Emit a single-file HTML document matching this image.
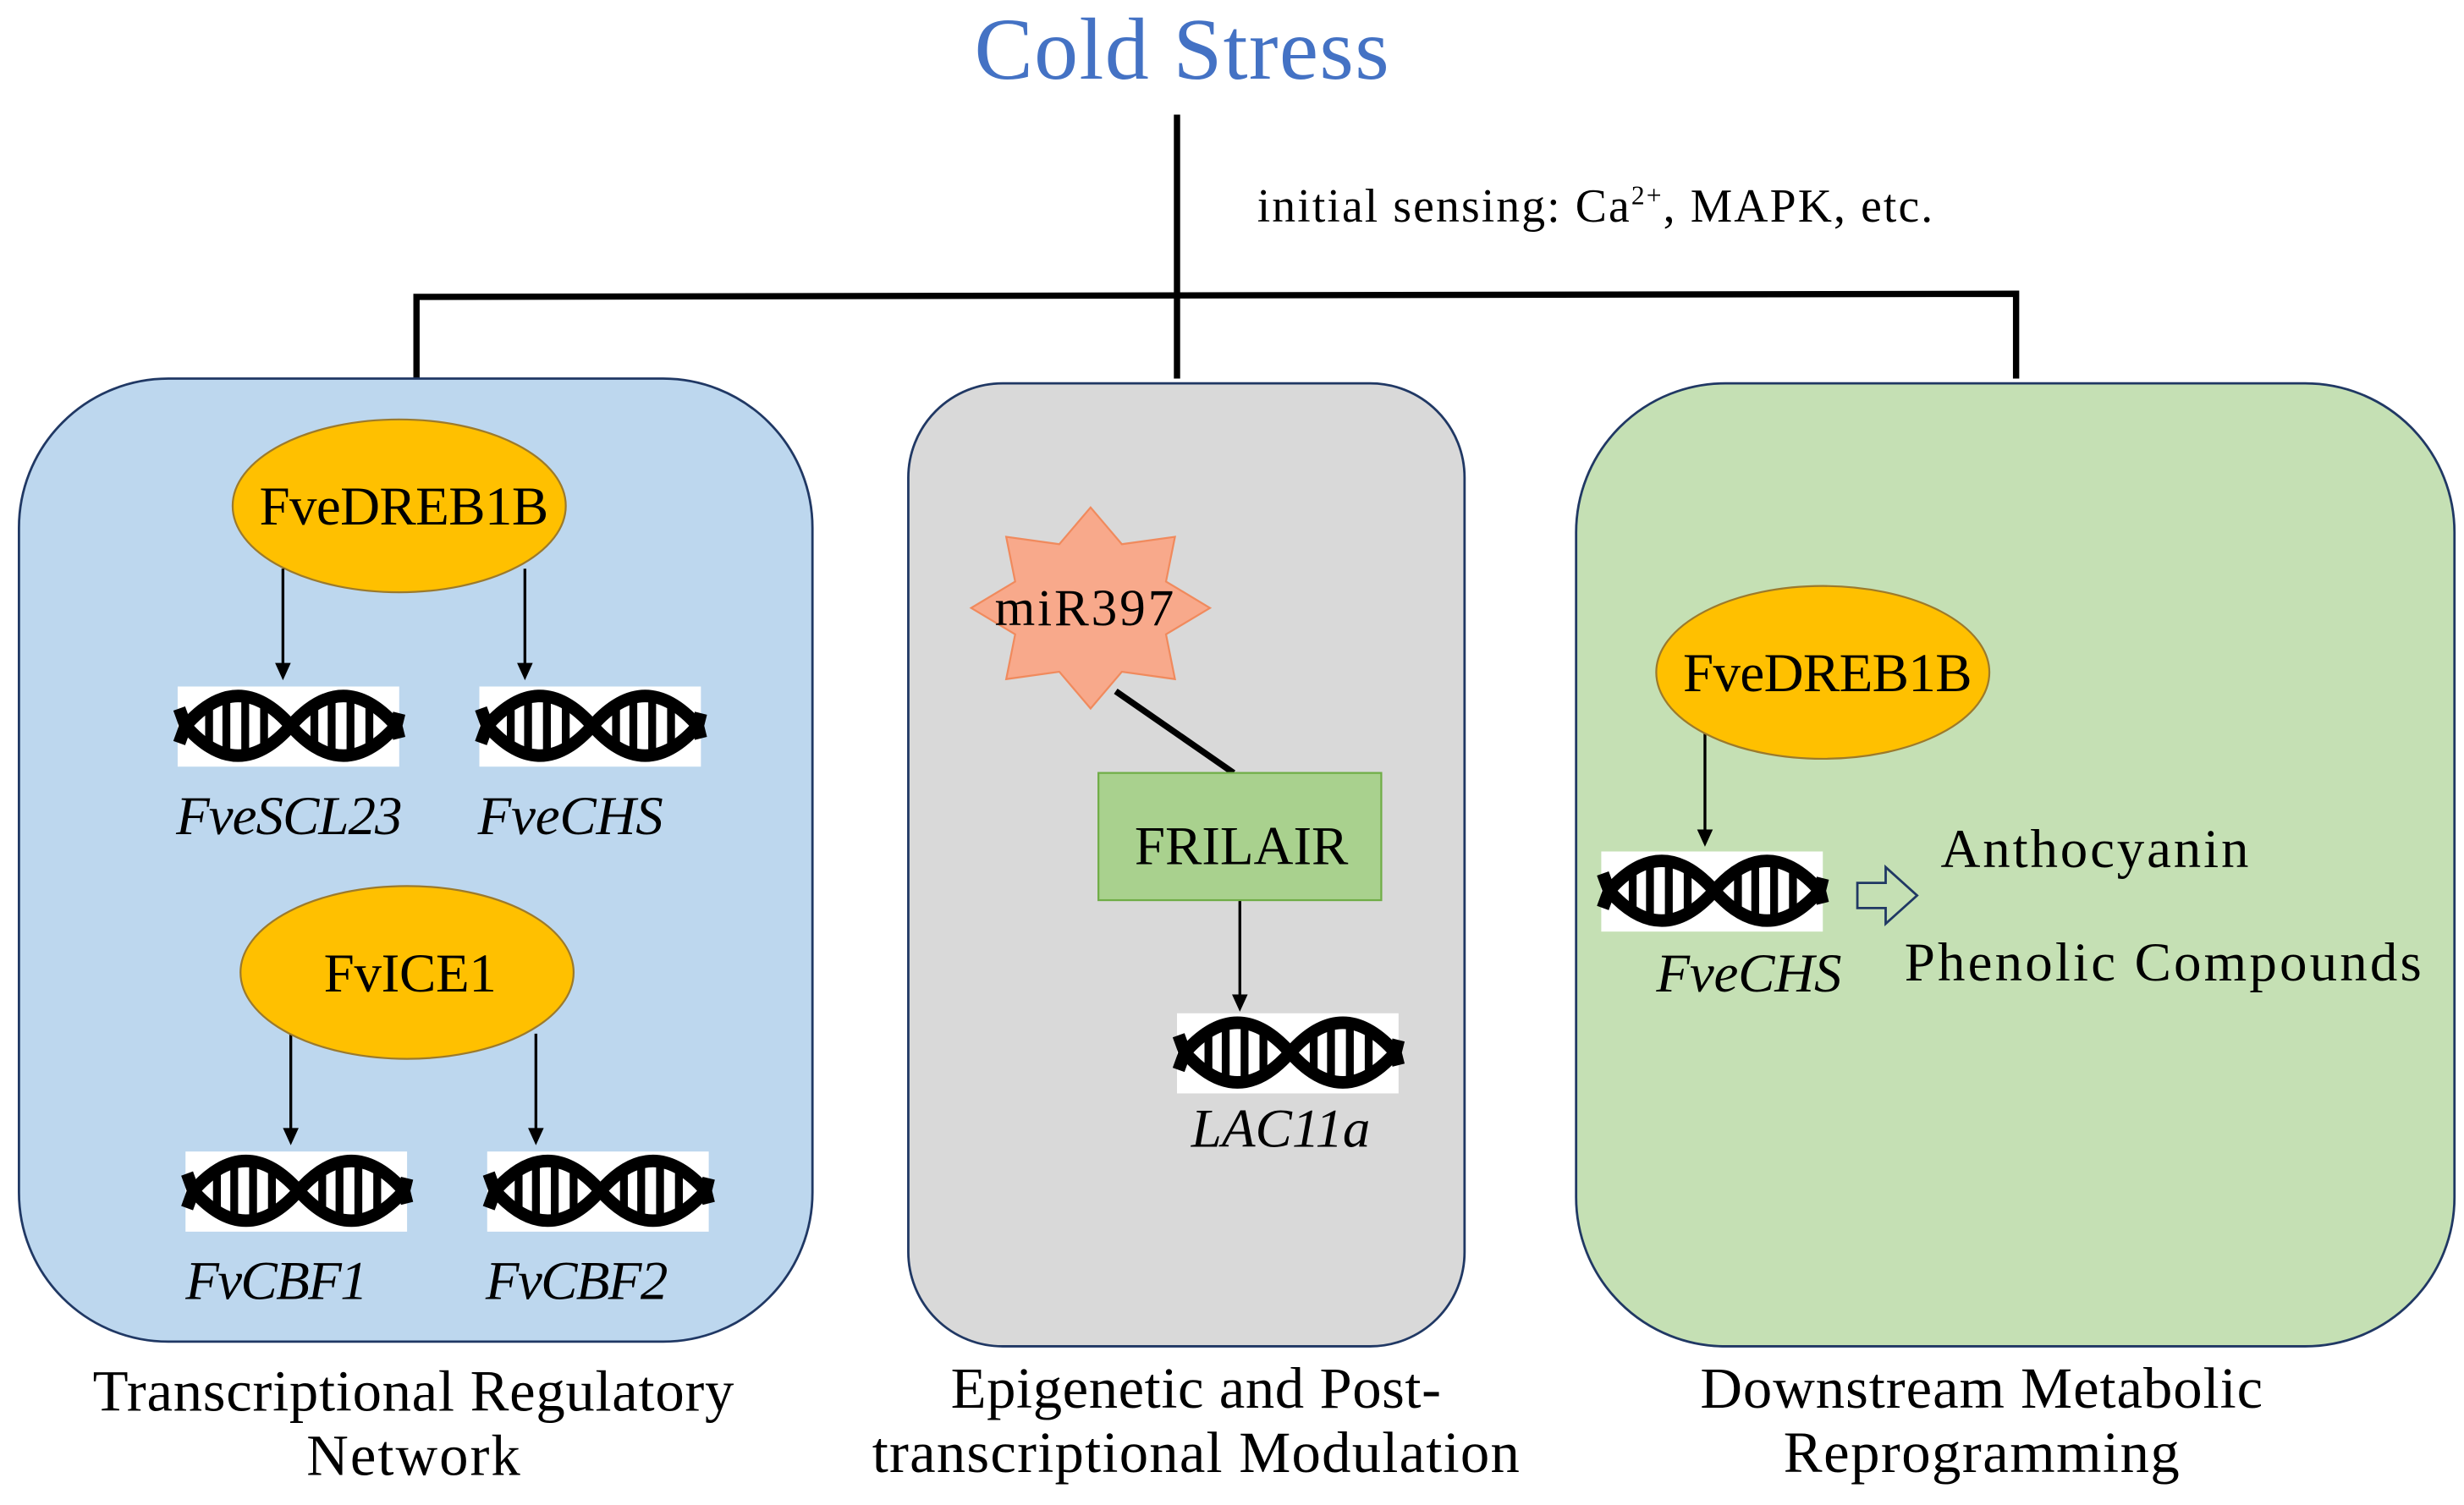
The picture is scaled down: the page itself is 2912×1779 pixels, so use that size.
<!DOCTYPE html>
<html><head><meta charset="utf-8"><style>html,body{margin:0;padding:0;background:#fff}svg{display:block}</style></head>
<body>
<svg width="2912" height="1779" viewBox="0 0 1568 958" xmlns="http://www.w3.org/2000/svg" font-family="'Liberation Serif', serif">
<defs>
<g id="dna">
<rect x="0" y="0" width="141" height="51" fill="#fff"/>
<g stroke="#000" fill="none" stroke-width="8">
<path d="M5,25 Q38.5,-13 72,25 Q105.5,63 139,25"/>
<path d="M5,25 Q38.5,63 72,25 Q105.5,-13 139,25"/>
<path d="M1,14 L5,25 L1,36"/>
<path d="M141,17 L139,25 L141,33"/>
</g>
<g stroke="#000" stroke-width="5">
<line x1="20" y1="13" x2="20" y2="38"/><line x1="31" y1="8" x2="31" y2="43"/><line x1="43" y1="7" x2="43" y2="44"/><line x1="55" y1="11" x2="55" y2="40"/>
<line x1="87" y1="13" x2="87" y2="38"/><line x1="98" y1="8" x2="98" y2="43"/><line x1="110" y1="7" x2="110" y2="44"/><line x1="122" y1="11" x2="122" y2="40"/>
</g>
</g>
</defs>

<text x="752" y="50" font-size="56" fill="#4472c4" text-anchor="middle" textLength="264">Cold Stress</text>

<g stroke="#000" stroke-width="4" fill="none">
<line x1="749" y1="73" x2="749" y2="241"/>
<polyline points="265,241 265,189 1283,187 1283,241"/>
</g>
<text x="800" y="141" font-size="30" fill="#000" textLength="430">initial sensing: Ca<tspan font-size="17" dy="-11">2+</tspan><tspan dy="11">, MAPK, etc.</tspan></text>

<rect x="12" y="241" width="505" height="613" rx="95" fill="#bdd7ee" stroke="#203864" stroke-width="1.5"/>
<rect x="578" y="244" width="354" height="613" rx="60" fill="#d9d9d9" stroke="#203864" stroke-width="1.5"/>
<rect x="1003" y="244" width="559" height="613" rx="95" fill="#c5e0b4" stroke="#203864" stroke-width="1.5"/>

<ellipse cx="254" cy="322" rx="106" ry="55" fill="#ffc000" stroke="#9c7a2c" stroke-width="1.2"/>
<text x="257" y="334" font-size="35" text-anchor="middle" textLength="184">FveDREB1B</text>
<g stroke="#000" stroke-width="1.8">
<line x1="180" y1="362" x2="180" y2="424"/><line x1="334" y1="362" x2="334" y2="424"/>
<line x1="185" y1="658" x2="185" y2="720"/><line x1="341" y1="658" x2="341" y2="720"/>
<line x1="789" y1="573" x2="789" y2="635"/><line x1="1085" y1="467" x2="1085" y2="530"/>
</g>
<g fill="#000">
<polygon points="175,422 185,422 180,433"/><polygon points="329,422 339,422 334,433"/>
<polygon points="180,718 190,718 185,729"/><polygon points="336,718 346,718 341,729"/>
<polygon points="784,633 794,633 789,644"/><polygon points="1080,528 1090,528 1085,539"/>
</g>
<use href="#dna" x="113" y="437"/>
<use href="#dna" x="305" y="437"/>
<text x="184" y="531" font-size="35" font-style="italic" text-anchor="middle" textLength="144">FveSCL23</text>
<text x="363" y="531" font-size="35" font-style="italic" text-anchor="middle" textLength="118">FveCHS</text>
<ellipse cx="259" cy="619" rx="106" ry="55" fill="#ffc000" stroke="#9c7a2c" stroke-width="1.2"/>
<text x="261" y="631" font-size="35" text-anchor="middle" textLength="110">FvICE1</text>
<use href="#dna" x="118" y="733"/>
<use href="#dna" x="310" y="733"/>
<text x="176" y="827" font-size="35" font-style="italic" text-anchor="middle" textLength="116">FvCBF1</text>
<text x="367" y="827" font-size="35" font-style="italic" text-anchor="middle" textLength="116">FvCBF2</text>

<polygon points="770,387 742,370.2 747.7,341.7 713.9,346.4 694,323 674.1,346.4 640.3,341.7 646,370.2 618,387 646,403.8 640.3,432.3 674.1,427.6 694,451 713.9,427.6 747.7,432.3 742,403.8" fill="#f8a98b" stroke="#f08a5d" stroke-width="1.2"/>
<text x="690" y="398" font-size="33" text-anchor="middle" textLength="114">miR397</text>
<line x1="710" y1="440" x2="785" y2="492" stroke="#000" stroke-width="4"/>
<rect x="699" y="492" width="180" height="81" fill="#a9d18e" stroke="#70ad47" stroke-width="1.2"/>
<text x="790" y="550" font-size="35" text-anchor="middle" textLength="136">FRILAIR</text>
<use href="#dna" x="749" y="645"/>
<text x="815" y="730" font-size="35" font-style="italic" text-anchor="middle" textLength="114">LAC11a</text>

<ellipse cx="1160" cy="428" rx="106" ry="55" fill="#ffc000" stroke="#9c7a2c" stroke-width="1.2"/>
<text x="1163" y="440" font-size="35" text-anchor="middle" textLength="184">FveDREB1B</text>
<use href="#dna" x="1019" y="542"/>
<text x="1113" y="631" font-size="35" font-style="italic" text-anchor="middle" textLength="118">FveCHS</text>
<polygon points="1182,562 1200,562 1200,552 1220,570 1200,588 1200,578 1182,578" fill="none" stroke="#203864" stroke-width="1.5"/>
<text x="1235" y="552" font-size="35" textLength="196">Anthocyanin</text>
<text x="1212" y="624" font-size="35" textLength="329">Phenolic Compounds</text>

<g font-size="37" text-anchor="middle">
<text x="263" y="898" textLength="408">Transcriptional Regulatory</text>
<text x="263" y="939" textLength="136">Network</text>
<text x="761" y="896" textLength="312">Epigenetic and Post-</text>
<text x="761" y="937" textLength="412">transcriptional Modulation</text>
<text x="1261" y="896" textLength="358">Downstream Metabolic</text>
<text x="1261" y="937" textLength="252">Reprogramming</text>
</g>
</svg>
</body></html>
